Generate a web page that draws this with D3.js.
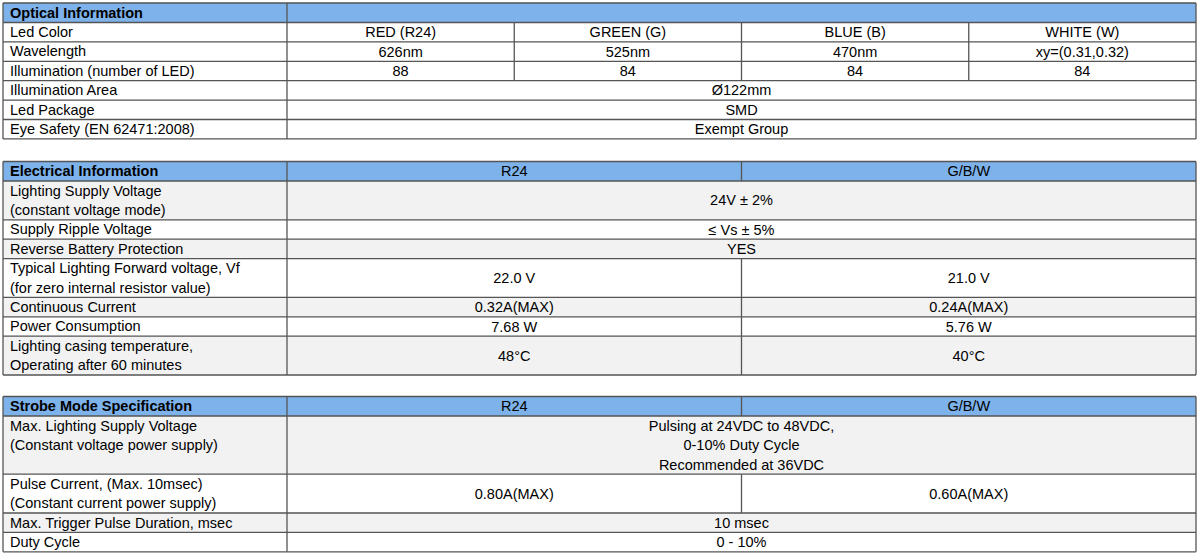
<!DOCTYPE html>
<html><head><meta charset="utf-8">
<script src="https://cdn.jsdelivr.net/npm/d3@7"></script>
<style>body{margin:0;background:#fff}text{font-family:"Liberation Sans",Arial,sans-serif;font-size:14.5px;fill:#000}</style>
</head><body><svg id="c" width="1200" height="554"></svg>
<script>
const opticalHeader = ["Optical Information"];
const opticalRows = [
 ["Led Color", [["RED (R24)",1],["GREEN (G)",1],["BLUE (B)",1],["WHITE (W)",1]]],
 ["Wavelength", [["626nm",1],["525nm",1],["470nm",1],["xy=(0.31,0.32)",1]]],
 ["Illumination (number of LED)", [["88",1],["84",1],["84",1],["84",1]]],
 ["Illumination Area", [["Ø122mm",4]]],
 ["Led Package", [["SMD",4]]],
 ["Eye Safety (EN 62471:2008)", [["Exempt Group",4]]]
];
const electricalHeader = ["Electrical Information","R24","G/B/W"];
const electricalRows = [
 ["Lighting Supply Voltage\n(constant voltage mode)", [["24V ± 2%",2]]],
 ["Supply Ripple Voltage", [["≤ Vs ± 5%",2]]],
 ["Reverse Battery Protection", [["YES",2]]],
 ["Typical Lighting Forward voltage, Vf\n(for zero internal resistor value)", [["22.0 V",1],["21.0 V",1]]],
 ["Continuous Current", [["0.32A(MAX)",1],["0.24A(MAX)",1]]],
 ["Power Consumption", [["7.68 W",1],["5.76 W",1]]],
 ["Lighting casing temperature,\nOperating after 60 minutes", [["48°C",1],["40°C",1]]]
];
const strobeHeader = ["Strobe Mode Specification","R24","G/B/W"];
const strobeRows = [
 ["Max. Lighting Supply Voltage\n(Constant voltage power supply)\n", [["Pulsing at 24VDC to 48VDC,\n0-10% Duty Cycle\nRecommended at 36VDC",2]]],
 ["Pulse Current, (Max. 10msec)\n(Constant current power supply)", [["0.80A(MAX)",1],["0.60A(MAX)",1]]],
 ["Max. Trigger Pulse Duration, msec", [["10 msec",2]]],
 ["Duty Cycle", [["0 - 10%",2]]]
];
const svg=d3.select("#c");
const LH=19.4, X0=3, XL=287, X1=1196;
function table(top, header, rows, ncol, shade){
  const x=d3.scaleLinear().domain([0,ncol]).range([XL,X1]);
  const g=svg.append("g");
  const hh=19.5;
  g.append("rect").attr("x",X0).attr("y",top).attr("width",X1-X0).attr("height",hh).attr("fill","#7eb2ea");
  g.append("text").attr("x",X0+7).attr("y",top+hh/2+5).attr("font-weight","bold").text(header[0]);
  header.slice(1).forEach((h,i)=>{g.append("text").attr("x",x(i+0.5)).attr("y",top+hh/2+5).attr("text-anchor","middle").text(h);});
  const lines=[];
  lines.push([XL,top,XL,top+hh]);
  if(header.length>1) for(let i=1;i<ncol;i++) lines.push([x(i),top,x(i),top+hh]);
  let y=top+hh;
  rows.forEach((r,ri)=>{
    const labL=r[0].split("\n"); const nl=Math.max(labL.length, ...r[1].map(c=>c[0].split("\n").length));
    const h=nl*LH;
    g.append("rect").attr("x",X0).attr("y",y).attr("width",X1-X0).attr("height",h).attr("fill",shade&&ri%2==0?"#f2f2f2":"#fff");
    labL.forEach((t,k)=>g.append("text").attr("x",X0+7).attr("y",y+k*LH+14.5).text(t));
    let c=0;
    r[1].forEach(([t,s])=>{
      const tl=t.split("\n"); const cy=y+h/2-(tl.length-1)*LH/2+5;
      tl.forEach((tt,k)=>g.append("text").attr("x",(x(c)+x(c+s))/2).attr("y",cy+k*LH).attr("text-anchor","middle").text(tt));
      c+=s; if(c<ncol) lines.push([x(c),y,x(c),y+h]);
    });
    lines.push([X0,y,X1,y]);
    lines.push([XL,y,XL,y+h]);
    y+=h;
  });
  lines.push([X0,top,X1,top]);lines.push([X0,y,X1,y]);lines.push([X0,top,X0,y]);lines.push([X1,top,X1,y]);
  g.selectAll("line").data(lines).join("line").attr("x1",d=>d[0]).attr("y1",d=>d[1]).attr("x2",d=>d[2]).attr("y2",d=>d[3]).attr("stroke","#555").attr("stroke-width",1.3);
}
table(3, opticalHeader, opticalRows, 4, false);
table(161.5, electricalHeader, electricalRows, 2, true);
table(396.5, strobeHeader, strobeRows, 2, true);
</script></body></html>
